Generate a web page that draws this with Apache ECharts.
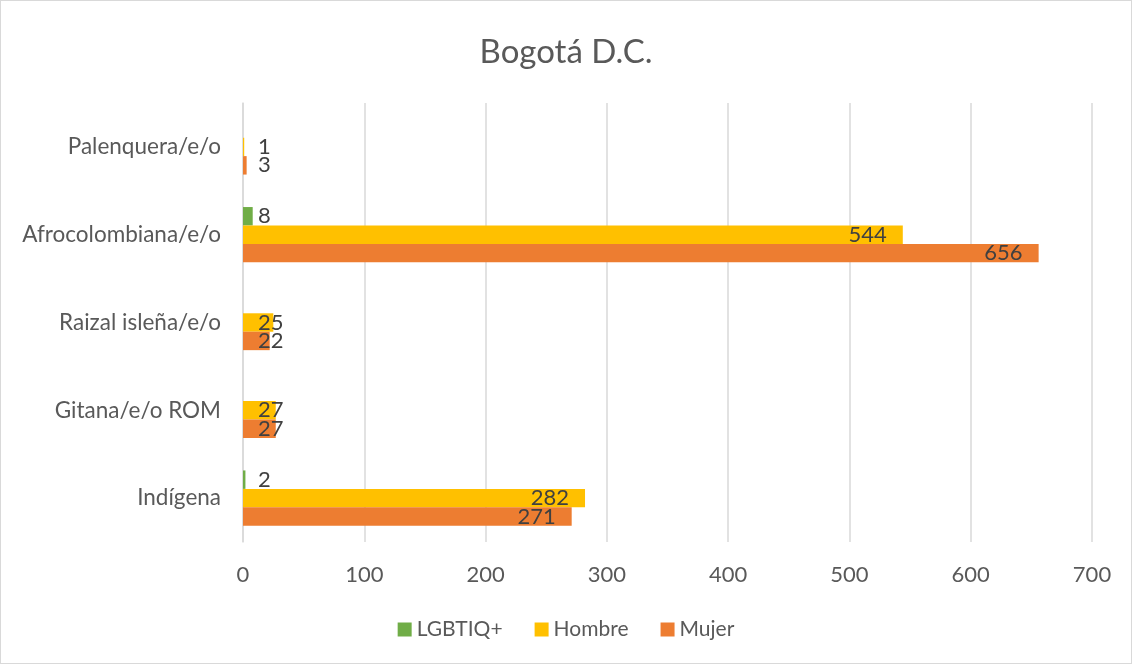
<!DOCTYPE html>
<html><head><meta charset="utf-8">
<script src="https://cdn.jsdelivr.net/npm/echarts@6/dist/echarts.min.js"></script>
<style>
html,body{margin:0;padding:0;background:#fff;}
#c{width:1130px;height:662px;border:1px solid #d9d9d9;}
</style></head>
<body><div id="c"></div>
<script>
const categories = ['Indígena','Gitana/e/o ROM','Raizal isleña/e/o','Afrocolombiana/e/o','Palenquera/e/o'];
const lgbtiq = [2, null, null, 8, null];
const hombre = [282, 27, 25, 544, 1];
const mujer = [271, 27, 22, 656, 3];
const xTicks = [0,100,200,300,400,500,600,700];

const FONT = 'Lato, "Open Sans", sans-serif';
function mk(arr){
  return arr.map(v => {
    if (v === null) return null;
    const small = v < 60;
    return {value: v, label: small ? {position:'insideLeft', distance: 15} : {position:'insideRight', distance: 16}};
  });
}
const lbl = {show:true, color:'#404040', fontSize:22, fontFamily:FONT, formatter: p => p.value};
const chart = echarts.init(document.getElementById('c'));
chart.setOption({
  animation:false,
  title:{text:'Bogotá D.C.', left:'center', top:30, textStyle:{fontFamily:FONT, fontSize:33, fontWeight:'normal', color:'#595959'}},
  legend:{data:['LGBTIQ+','Hombre','Mujer'], bottom:18, left:'center', itemWidth:14, itemHeight:14, itemGap:32, icon:'rect',
    textStyle:{fontFamily:FONT, fontSize:21, color:'#595959'}},
  grid:{left:242, right:39, top:102, bottom:121, containLabel:false},
  xAxis:{type:'value', min:0, max:700, interval:100,
    axisLine:{show:false}, axisTick:{show:false},
    splitLine:{lineStyle:{color:'#d9d9d9', width:1.5}},
    axisLabel:{fontFamily:FONT, fontSize:22, color:'#595959', margin:22, formatter: v => xTicks.includes(v) ? String(v) : ''}},
  yAxis:{type:'category', data:categories, inverse:false,
    axisLine:{show:true, lineStyle:{color:'#d9d9d9', width:1.5}}, axisTick:{show:false},
    axisLabel:{fontFamily:FONT, fontSize:22.5, color:'#595959', margin:22}},
  series:[
    {name:'LGBTIQ+', type:'bar', data:mk(lgbtiq), itemStyle:{color:'#70ad47'}, barGap:'0%', barCategoryGap:'37%', label:lbl},
    {name:'Hombre', type:'bar', data:mk(hombre), itemStyle:{color:'#ffc000'}, barGap:'0%', barCategoryGap:'37%', label:lbl},
    {name:'Mujer', type:'bar', data:mk(mujer), itemStyle:{color:'#ed7d31'}, barGap:'0%', barCategoryGap:'37%', label:lbl}
  ]
});
</script></body></html>
